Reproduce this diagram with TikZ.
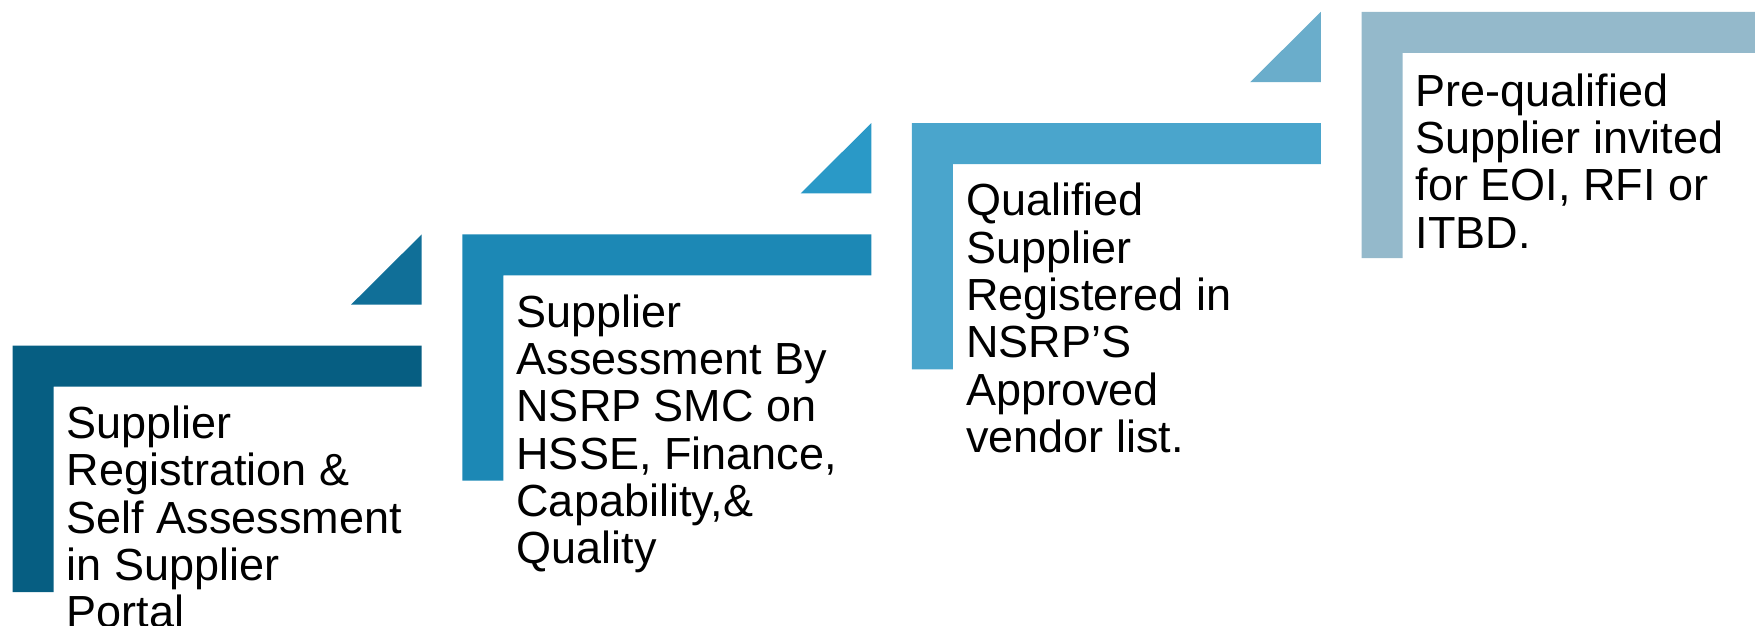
\documentclass[tikz,border=0pt]{standalone}
\usepackage{fontspec}
\setmainfont{Liberation Sans}
\definecolor{barA}{HTML}{065E82}
\definecolor{triA}{HTML}{106F98}
\definecolor{barB}{HTML}{1C88B5}
\definecolor{triB}{HTML}{2A99C7}
\definecolor{barC}{HTML}{4AA5CC}
\definecolor{triC}{HTML}{6AADCB}
\definecolor{barD}{HTML}{94B9CB}
\tikzset{
  steptext/.style={anchor=north west, inner sep=0pt, align=left,
    font=\fontsize{45}{47.3}\selectfont, text=black}
}
\begin{document}
\begin{tikzpicture}[x=1pt,y=-1pt]
\useasboundingbox (0,0) rectangle (1755,626);
% step shapes: L, T, bar colour, right end
\foreach \L/\T/\c/\R in {12.7/345.7/barA/421.7, 462.3/234.4/barB/871.3, 911.9/123.1/barC/1320.9, 1361.5/11.8/barD/1760}{
  \fill[\c] (\L,\T) -- (\R,\T) -- (\R,{\T+41}) -- ({\L+41},{\T+41}) -- ({\L+41},{\T+246.3}) -- (\L,{\T+246.3}) -- cycle;
}
\foreach \L/\T/\c in {12.7/345.7/triA, 462.3/234.4/triB, 911.9/123.1/triC}{
  \fill[\c] ({\L+409},{\T-111.3}) -- ({\L+409},{\T-41}) -- ({\L+338.3},{\T-41}) -- cycle;
}
\node[steptext] (t1) at (66.7,405.7) {Supplier\\Registration \&\\Self Assessment\\in Supplier\\Portal};
\node[steptext] (t2) at (516.3,294.4) {Supplier\\Assessment By\\NSRP SMC on\\HSSE, Finance,\\Capability,\&\\Quality};
\node[steptext] (t3) at (965.9,183.1) {Qualified\\Supplier\\Registered in\\NSRP’S\\Approved\\vendor list.};
\node[steptext] (t4) at (1415.5,73.3) {Pre-qualified\\Supplier invited\\for EOI, RFI or\\ITBD.};
\end{tikzpicture}
\end{document}
